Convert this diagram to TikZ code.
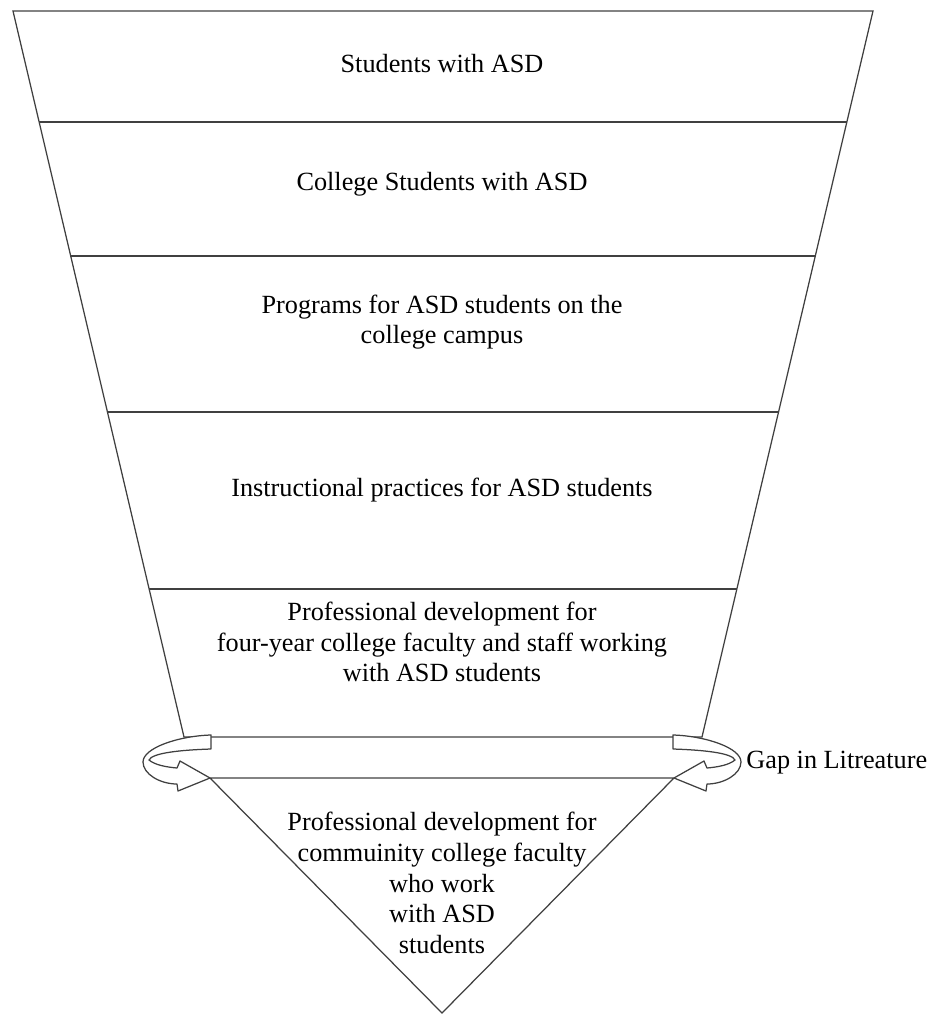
\documentclass[tikz,border=0pt]{standalone}
\usepackage{fontspec}
\setmainfont{Liberation Serif}
\usepackage{tikz}
\usetikzlibrary{positioning}

\begin{document}
\begin{tikzpicture}[x=0.48pt,y=-0.48pt,
  ln/.style={draw=black!75,line width=0.6pt},
  t/.style={font=\fontsize{12.6}{14.8}\selectfont,align=center,inner sep=0pt},
  turn/.style={ln,fill=white,line join=round}]
\useasboundingbox (0,0) rectangle (933,1015);
% funnel
\draw[ln] (13,11) -- (873,11) -- (702,737) -- (184,737) -- cycle;
\foreach \y in {122,256,412,589}
  \draw[ln] ({13+0.2355*(\y-11)},\y) -- ({873-0.2355*(\y-11)},\y);
% bottom triangle
\draw[ln] (210,778) -- (442,1013) -- (674,778) -- cycle;
% turning arrows
\draw[turn] (211,735) -- (211,749) .. controls (180,750) and (152,753) .. (149,760)
  .. controls (155,765) and (166,767) .. (177,768) -- (180,761) -- (210,778)
  -- (178,791) -- (177,784) .. controls (160,784) and (143,774) .. (143,762)
  .. controls (143,748) and (178,736) .. (211,735) -- cycle;
\draw[turn] (673,735) -- (673,749) .. controls (704,750) and (732,753) .. (735,760)
  .. controls (729,765) and (718,767) .. (707,768) -- (704,761) -- (674,778)
  -- (706,791) -- (707,784) .. controls (724,784) and (741,774) .. (741,762)
  .. controls (741,748) and (706,736) .. (673,735) -- cycle;
% labels
\node[t] (students)  at (442,64)  {Students with ASD};
\node[t] (college)   at (442,184) {College Students with ASD};
\node[t] (programs)  at (442,322) {Programs for ASD students on the\\college campus};
\node[t] (practices) at (442,490) {Instructional practices for ASD students};
\node[t] (pdfour)    at (442,642) {Professional development for\\four-year college faculty and staff working\\with ASD students};
\node[t] (pdcc)      at (442,883) {Professional development for\\commuinity college faculty\\who work\\with ASD\\students};
\node[t,anchor=west] (gap) at (746,763) {Gap in Litreature};
\end{tikzpicture}
\end{document}
